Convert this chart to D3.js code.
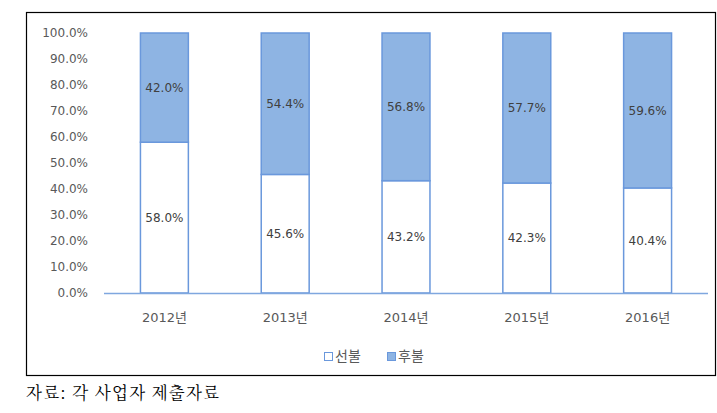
<!DOCTYPE html>
<html><head><meta charset="utf-8">
<script src="https://cdn.jsdelivr.net/npm/d3@7"></script>
<style>body{margin:0;background:#fff;} svg{display:block;}</style>
</head><body>
<svg id="c" width="717" height="413"></svg>
<script>
const categories = ["2012년","2013년","2014년","2015년","2016년"];
const prepaid = [58.0,45.6,43.2,42.3,40.4];   // 선불
const postpaid = [42.0,54.4,56.8,57.7,59.6];  // 후불
const seriesNames = ["선불","후불"];
const yTicks = [0,10,20,30,40,50,60,70,80,90,100];

const svg = d3.select("#c");
const font = "'DejaVu Sans','Noto Sans CJK KR',sans-serif";
// frame
svg.append("rect").attr("x",26.5).attr("y",12.5).attr("width",689).attr("height",363)
  .attr("fill","#fff").attr("stroke","#000").attr("stroke-width",1.2);

const x = d3.scaleBand().domain(categories).range([104,708]).paddingInner(0.595).paddingOuter(0.2975);
const y = d3.scaleLinear().domain([0,100]).range([293,33]);

// y ticks
svg.append("g").selectAll("text").data(yTicks).join("text")
  .attr("x",88).attr("y",d=>y(d)).attr("dy","0.35em").attr("text-anchor","end")
  .attr("font-family",font).attr("font-size",12).attr("fill","#595959")
  .text(d=>d.toFixed(1)+"%");

const data = categories.map((c,i)=>({c, a:prepaid[i], b:postpaid[i]}));
const g = svg.append("g");
// prepaid (bottom)
g.selectAll("rect.a").data(data).join("rect").attr("class","a")
  .attr("x",d=>x(d.c)+0.5).attr("width",x.bandwidth()-1)
  .attr("y",d=>y(d.a)).attr("height",d=>y(0)-y(d.a))
  .attr("fill","#fff").attr("stroke","#6A98DC").attr("stroke-width",1.5);
// postpaid (top)
g.selectAll("rect.b").data(data).join("rect").attr("class","b")
  .attr("x",d=>x(d.c)+0.5).attr("width",x.bandwidth()-1)
  .attr("y",d=>y(d.a+d.b)).attr("height",d=>y(d.a)-y(d.a+d.b))
  .attr("fill","#8EB4E3").attr("stroke","#6A98DC").attr("stroke-width",1.5);

// labels
g.selectAll("text.la").data(data).join("text").attr("class","la")
  .attr("x",d=>x(d.c)+x.bandwidth()/2).attr("y",d=>y(d.a/2)).attr("dy","0.35em")
  .attr("text-anchor","middle").attr("font-family",font).attr("font-size",12).attr("fill","#404040")
  .text(d=>d.a.toFixed(1)+"%");
g.selectAll("text.lb").data(data).join("text").attr("class","lb")
  .attr("x",d=>x(d.c)+x.bandwidth()/2).attr("y",d=>y(d.a+d.b/2)).attr("dy","0.35em")
  .attr("text-anchor","middle").attr("font-family",font).attr("font-size",12).attr("fill","#404040")
  .text(d=>d.b.toFixed(1)+"%");

// x axis line
svg.append("line").attr("x1",104).attr("x2",708).attr("y1",293.5).attr("y2",293.5)
  .attr("stroke","#7FA7DF").attr("stroke-width",1.5);
svg.append("g").selectAll("text").data(categories).join("text")
  .attr("x",d=>x(d)+x.bandwidth()/2).attr("y",317).attr("dy","0.35em").attr("text-anchor","middle")
  .attr("font-family",font).attr("font-size",13).attr("fill","#595959").text(d=>d);

// legend
const leg = svg.append("g");
const lx = [324,387];
seriesNames.forEach((n,i)=>{
  leg.append("rect").attr("x",lx[i]+0.5).attr("y",352.5).attr("width",8).attr("height",8)
    .attr("fill",i?"#8EB4E3":"#fff").attr("stroke","#6A98DC").attr("stroke-width",1);
  leg.append("text").attr("x",lx[i]+11).attr("y",356.5).attr("dy","0.35em")
    .attr("font-family",font).attr("font-size",14).attr("fill","#595959").text(n);
});

// source
svg.append("text").attr("x",26).attr("y",393).attr("dy","0.35em")
  .attr("font-family","'Noto Serif CJK KR','Noto Sans CJK KR',serif").attr("font-size",16.5).attr("fill","#000")
  .attr("letter-spacing",1.2).text("자료: 각 사업자 제출자료");
</script>
</body></html>
